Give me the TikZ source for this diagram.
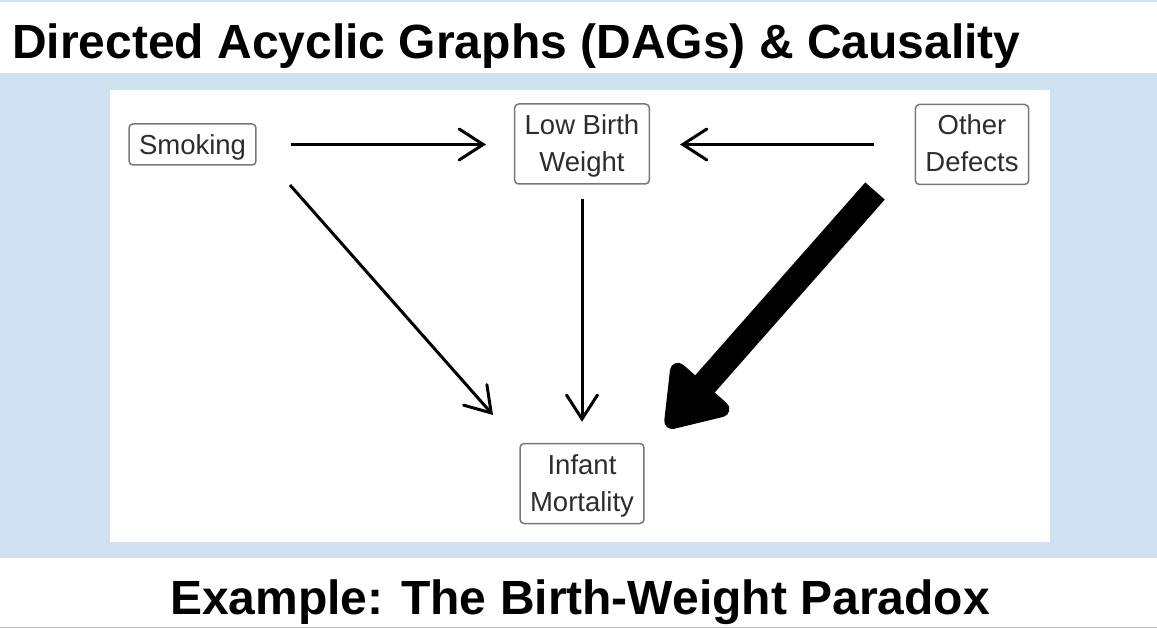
\documentclass[tikz,border=0pt]{standalone}
\usepackage{fontspec}
\setmainfont{Liberation Sans}
\usetikzlibrary{positioning, arrows.meta}
\definecolor{bandblue}{RGB}{207,224,241}
\definecolor{boxgray}{RGB}{120,120,120}
\definecolor{textgray}{RGB}{45,45,45}
\tikzset{
  dagbox/.style={draw=boxgray, line width=1.5pt, rounded corners=4pt, fill=white,
    text=textgray, align=center, inner xsep=10pt, inner ysep=0pt, text depth=0pt,
    font=\fontsize{27.5}{37}\selectfont},
  onerow/.style={dagbox, text height=20pt, minimum height=41pt},
  tworow/.style={dagbox, text height=55pt, minimum height=80pt},
  thinarrow/.style={line width=3pt, -{Straight Barb[length=24pt, width=31pt, line cap=round]}},
  bigarrow/.style={line width=26pt, -{Triangle[length=64pt, width=84pt, round]}}
}
\begin{document}
\begin{tikzpicture}[x=1pt, y=-1pt, line join=round]
\useasboundingbox (0,0) rectangle (1157,628);

% Slide background
\fill[white] (0,0) rectangle (1157,628);
\fill[bandblue] (0,0) rectangle (1157,2);
\fill[bandblue] (0,73) rectangle (1157,558);
\fill[white] (110,90) rectangle (1050,542);
\draw[black!25, line width=1pt] (0,627.5) -- (1157,627.5);

% Headings
\node[anchor=base west, inner sep=0pt, font=\fontsize{48}{54}\selectfont\bfseries] (title) at (12,58.5) {Directed Acyclic Graphs (DAGs) \& Causality};
\node[anchor=base, inner sep=0pt, font=\fontsize{48}{54}\selectfont\bfseries] (subtitle) at (580,614) {Example: The Birth-Weight Paradox};

% Variables
\node[onerow] (smoking) at (192.5,144.5) {Smoking};
\node[tworow] (lbw) at (582,144) {Low Birth\\Weight};
\node[tworow] (defects) at (972,144.5) {Other\\Defects};
\node[tworow] (mortality) at (582,483.5) {Infant\\Mortality};

% Causal paths
\draw[thinarrow, shorten <=34pt, shorten >=28pt] (smoking.east) -- (smoking.east -| lbw.west);
\draw[thinarrow, shorten <=41pt, shorten >=30pt] (defects.west) -- (defects.west -| lbw.east);
\draw[thinarrow, shorten <=14pt, shorten >=21pt] (lbw.south) -- (mortality.north);
\coordinate (smokeD) at (290,185);
\coordinate (smokeTip) at (493,415);
\draw[thinarrow] (smokeD) -- (smokeTip);

% Dominant path from the other defects
\coordinate (defectsD) at (875,191);
\coordinate (defectsTip) at (667,427);
\draw[bigarrow] (defectsD) -- (defectsTip);
\end{tikzpicture}
\end{document}
